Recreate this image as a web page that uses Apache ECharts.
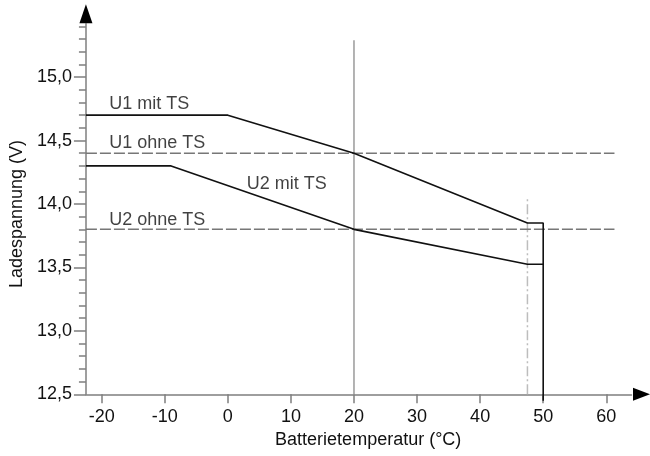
<!DOCTYPE html>
<html>
<head>
<meta charset="utf-8">
<script src="https://cdn.jsdelivr.net/npm/echarts@6/dist/echarts.min.js"></script>
<style>html,body{margin:0;padding:0;background:#fff}#c{width:650px;height:456px}</style>
</head>
<body>
<div id="c"></div>
<script>
// ---- data ----
var xTicks = [-20, -10, 0, 10, 20, 30, 40, 50, 60];
var yMajorTicks = [12.5, 13.0, 13.5, 14.0, 14.5, 15.0];
var yMinorTicks = [12.6, 12.7, 12.8, 12.9, 13.1, 13.2, 13.3, 13.4, 13.6, 13.7, 13.8, 13.9,
                   14.1, 14.2, 14.3, 14.4, 14.6, 14.7, 14.8, 14.9, 15.1, 15.2, 15.3, 15.4];

var u1MitTS   = [[-22.5, 14.7], [0, 14.7], [20, 14.4], [47.5, 13.85], [50, 13.85], [50, 12.45]];
var u2MitTS   = [[-22.5, 14.3], [-9, 14.3], [20, 13.8], [47.5, 13.525], [50, 13.525]];
var u1OhneTS  = [[-22.5, 14.4], [61.3, 14.4]];
var u2OhneTS  = [[-22.5, 13.8], [61.3, 13.8]];
var refLine20 = [[20, 12.5], [20, 15.29]];
var refLine47 = [[47.5, 12.5], [47.5, 14.06]];

var labelTexts = ['U1 mit TS', 'U1 ohne TS', 'U2 mit TS', 'U2 ohne TS'];
var labelX = [-18.8, -18.8, 3.0, -18.8];
var labelY = [14.79, 14.48, 14.16, 13.875];

var xName = 'Batterietemperatur (°C)';
var yName = 'Ladespannung (V)';

// ---- chart ----
var FONT = 'Liberation Sans, Arial, sans-serif';
var TXT = '#111111';
var AXIS = '#7f7f7f';
var X_MIN = -22.5, X_MAX = 64, Y_MIN = 12.5, Y_MAX = 15.42;

var labelData = labelTexts.map(function (t, i) { return { value: [labelX[i], labelY[i]], name: t }; });

function arrowAxis(size) {
  return {
    show: true, onZero: false, symbol: ['none', 'triangle'], symbolSize: size, symbolOffset: [0, 10],
    lineStyle: { color: '#000000', width: 0 }
  };
}

var chart = echarts.init(document.getElementById('c'), null, { renderer: 'canvas' });
chart.setOption({
  animation: false,
  backgroundColor: '#ffffff',
  grid: { left: 83.2, right: 18.5, top: 23.8, bottom: 61.7 },
  xAxis: [{
    type: 'value', min: X_MIN, max: X_MAX, position: 'bottom',
    name: xName, nameLocation: 'middle', nameGap: 46,
    nameTextStyle: { fontFamily: FONT, fontSize: 18, color: TXT, verticalAlign: 'middle', align: 'center', padding: [0, 0, 0, 19] },
    axisLine: { show: true, onZero: false, lineStyle: { color: AXIS, width: 1.5 } },
    axisTick: { show: true, customValues: xTicks, length: 9, lineStyle: { color: AXIS, width: 1.5 } },
    axisLabel: { show: true, customValues: xTicks, margin: 14, fontFamily: FONT, fontSize: 18, color: TXT },
    splitLine: { show: false }
  }, {
    type: 'value', min: X_MIN, max: X_MAX, position: 'bottom', offset: 0,
    axisLine: arrowAxis([13, 17]),
    axisTick: { show: false }, axisLabel: { show: false }, splitLine: { show: false }
  }],
  yAxis: [{
    type: 'value', min: Y_MIN, max: Y_MAX, position: 'left',
    axisLine: { show: true, onZero: false, lineStyle: { color: AXIS, width: 1.5 } },
    axisTick: { show: true, customValues: yMinorTicks, length: 7, lineStyle: { color: AXIS, width: 1.5 } },
    axisLabel: { show: false },
    splitLine: { show: false }
  }, {
    type: 'value', min: Y_MIN, max: Y_MAX, position: 'left', offset: 0,
    name: yName, nameLocation: 'middle', nameGap: 68, nameRotate: 90,
    nameTextStyle: { fontFamily: FONT, fontSize: 18, color: TXT, verticalAlign: 'middle', align: 'center', padding: [0, 10, 0, 0] },
    axisLine: { show: false, onZero: false },
    axisTick: { show: true, customValues: yMajorTicks, length: 12, lineStyle: { color: AXIS, width: 1.5 } },
    axisLabel: { show: true, customValues: yMajorTicks, margin: 14, fontFamily: FONT, fontSize: 18, color: TXT,
      formatter: function (v) { return v.toFixed(1).replace('.', ','); } },
    splitLine: { show: false }
  }, {
    type: 'value', min: Y_MIN, max: Y_MAX, position: 'left', offset: 0,
    axisLine: arrowAxis([13, 19]),
    axisTick: { show: false }, axisLabel: { show: false }, splitLine: { show: false }
  }],
  series: [
    { type: 'line', data: refLine20, symbol: 'none', silent: true, z: 1,
      lineStyle: { color: '#9a9a9a', width: 1.5 } },
    { type: 'line', data: refLine47, symbol: 'none', silent: true, z: 1,
      lineStyle: { color: '#bdbdbd', width: 1.5, type: [10, 3, 2, 3] } },
    { type: 'line', name: 'U1 ohne TS', data: u1OhneTS, symbol: 'none', silent: true, z: 2,
      lineStyle: { color: '#777777', width: 1.5, type: [11, 3] } },
    { type: 'line', name: 'U2 ohne TS', data: u2OhneTS, symbol: 'none', silent: true, z: 2,
      lineStyle: { color: '#777777', width: 1.5, type: [11, 3] } },
    { type: 'line', name: 'U1 mit TS', data: u1MitTS, symbol: 'none', silent: true, z: 3, clip: false,
      lineStyle: { color: '#111111', width: 1.6 } },
    { type: 'line', name: 'U2 mit TS', data: u2MitTS, symbol: 'none', silent: true, z: 3, clip: false,
      lineStyle: { color: '#111111', width: 1.6 } },
    { type: 'scatter', data: labelData, symbolSize: 0, silent: true, z: 4,
      label: { show: true, position: 'right', distance: 0, formatter: function (p) { return p.name; },
        fontFamily: FONT, fontSize: 18, color: TXT } }
  ]
});
</script>
</body>
</html>
